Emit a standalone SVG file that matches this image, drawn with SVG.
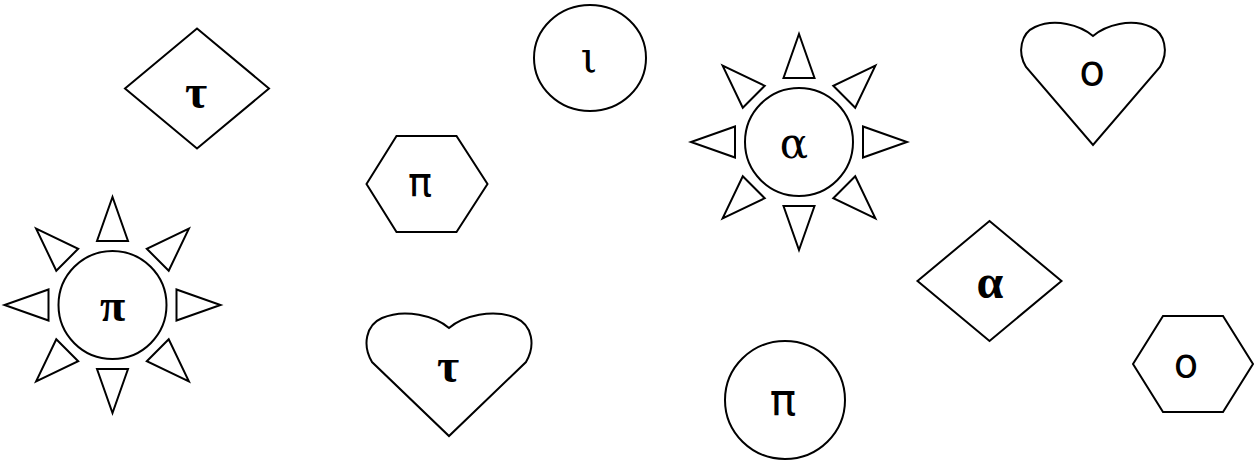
<svg xmlns="http://www.w3.org/2000/svg" width="1258" height="464" viewBox="0 0 1258 464">
<style>
.s{fill:#fff;stroke:#000;stroke-width:2;stroke-linejoin:miter}
.bs{font-family:"Liberation Serif",serif;font-weight:bold;text-anchor:middle;fill:#000}
.ds{font-family:"DejaVu Serif",serif;text-anchor:middle;fill:#000}
.sa{font-family:"DejaVu Sans",sans-serif;text-anchor:middle;fill:#000}
</style>
<defs>
<polygon id="ray" class="s" points="-15.5,-64 15.5,-64 0,-108"/>
<g id="rays">
<use href="#ray"/>
<use href="#ray" transform="rotate(45)"/>
<use href="#ray" transform="rotate(90)"/>
<use href="#ray" transform="rotate(135)"/>
<use href="#ray" transform="rotate(180)"/>
<use href="#ray" transform="rotate(225)"/>
<use href="#ray" transform="rotate(270)"/>
<use href="#ray" transform="rotate(315)"/>
</g>
</defs>
<g id="connectors"></g>
<g id="n1">
<polygon class="s" points="197,28.5 269,88.5 197,148.5 125,88.5"/>
<text class="bs" x="196" y="108" font-size="48">τ</text>
</g>
<g id="n2">
<g transform="translate(112.5,305)"><use href="#rays"/><circle class="s" r="54"/></g>
<text class="bs" x="112.5" y="321" font-size="46">π</text>
</g>
<g id="n3">
<polygon class="s" points="366.5,184 396.5,136 456.5,136 487.5,184 456.5,232 396.5,232"/>
<text class="sa" x="420" y="196" font-size="40">π</text>
</g>
<g id="n4">
<path class="s" d="M449,328 C435,316 405,308 382,318 C366,325 362,345 372,362 L449,436 L526,362 C536,345 532,325 516,318 C493,308 463,316 449,328 Z"/>
<text class="bs" x="448" y="382" font-size="48">τ</text>
</g>
<g id="n5">
<ellipse class="s" cx="590" cy="58" rx="56" ry="53"/>
<text class="ds" x="589" y="72" font-size="42">ι</text>
</g>
<g id="n6">
<g transform="translate(799,142)"><use href="#rays"/><circle class="s" r="54"/></g>
<text class="ds" x="794" y="158" font-size="42">α</text>
</g>
<g id="n7">
<path class="s" d="M1093,36 C1080,25 1055,18 1035,27 C1021,33 1017,52 1026,67 L1093,145 L1160,67 C1169,52 1165,33 1151,27 C1131,18 1106,25 1093,36 Z"/>
<text class="sa" x="1092" y="85" font-size="42">ο</text>
</g>
<g id="n8">
<polygon class="s" points="989.5,221 1061.5,281 989.5,341 917.5,281"/>
<text class="bs" x="990" y="298" font-size="48">α</text>
</g>
<g id="n9">
<ellipse class="s" cx="785" cy="400" rx="60" ry="59"/>
<text class="sa" x="783" y="415" font-size="44">π</text>
</g>
<g id="n10">
<polygon class="s" points="1133,364 1163,316 1223,316 1253,364 1223,412 1163,412"/>
<text class="sa" x="1186" y="377" font-size="40">ο</text>
</g>
</svg>
